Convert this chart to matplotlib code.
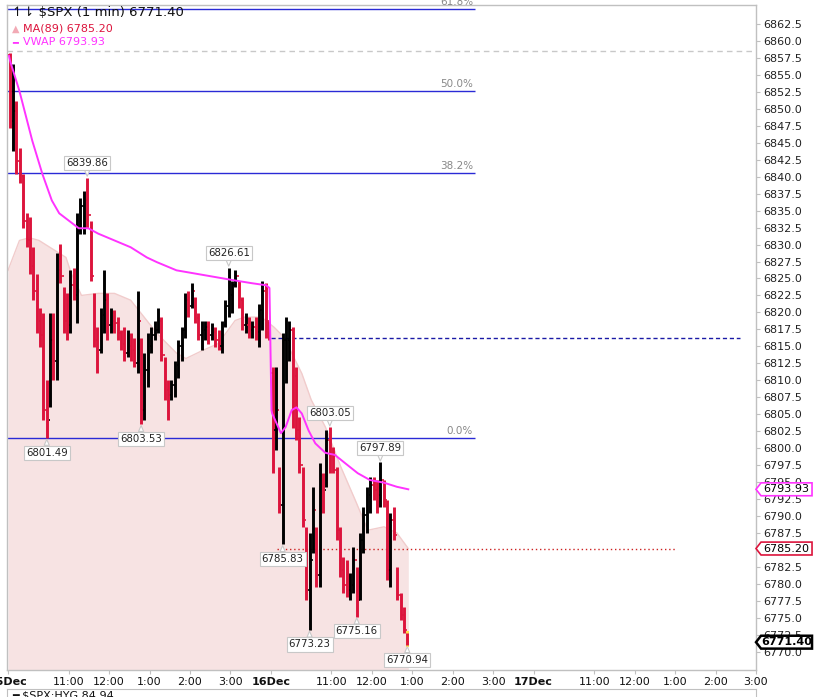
import numpy as np
import matplotlib.pyplot as plt
from matplotlib.patches import Polygon

# 5-minute OHLC summary of the 1-min $SPX chart (high, low, close)
day1_high = [6858.2, 6856.6, 6851.2, 6844.3, 6840.4, 6834.6, 6834.0, 6829.6, 6825.7, 6820.7,
             6819.9, 6810.0, 6819.9, 6819.9, 6828.7, 6830.1, 6823.7, 6822.8, 6826.2, 6826.6,
             6834.6, 6836.9, 6837.9, 6839.86, 6833.5, 6822.8, 6817.8, 6820.7, 6826.2, 6822.8,
             6820.7, 6820.3, 6819.3, 6817.4, 6817.8, 6817.4, 6816.9, 6816.3, 6823.2, 6816.3,
             6814.0, 6816.9, 6817.8, 6818.8, 6820.7, 6819.3, 6813.4, 6810.0, 6810.0, 6812.9,
             6815.9, 6817.8, 6822.8, 6823.2, 6824.3, 6822.2, 6819.9, 6818.8, 6818.8, 6818.8,
             6818.4, 6817.8, 6817.4, 6818.8, 6821.8, 6826.61, 6824.7, 6826.2, 6824.7, 6822.2,
             6819.9, 6819.3, 6818.8, 6819.3, 6821.3, 6824.7, 6824.3, 6818.8]
day1_low = [6847.1, 6843.8, 6840.4, 6839.0, 6832.5, 6829.6, 6825.7, 6821.8, 6816.9, 6814.9,
            6804.1, 6801.49, 6806.0, 6810.0, 6810.0, 6824.3, 6816.9, 6815.9, 6816.9, 6821.8,
            6818.4, 6831.6, 6831.6, 6832.5, 6824.7, 6814.9, 6811.0, 6814.0, 6816.9, 6815.9,
            6816.9, 6816.9, 6815.9, 6814.4, 6812.9, 6813.4, 6812.9, 6811.9, 6811.0, 6803.53,
            6804.1, 6809.0, 6814.0, 6815.9, 6816.9, 6812.9, 6807.1, 6804.1, 6807.1, 6807.5,
            6810.4, 6812.9, 6816.3, 6819.3, 6820.7, 6818.4, 6815.9, 6814.4, 6815.9, 6815.4,
            6815.9, 6814.9, 6814.4, 6814.0, 6817.8, 6819.3, 6819.9, 6823.7, 6820.7, 6817.4,
            6816.9, 6816.3, 6816.3, 6815.9, 6814.9, 6817.4, 6816.3, 6815.9]
day1_close = [6848.2, 6849.7, 6842.3, 6840.1, 6833.5, 6830.6, 6826.9, 6823.2, 6818.8, 6816.6,
              6805.6, 6804.1, 6815.9, 6812.9, 6826.2, 6825.4, 6818.8, 6818.1, 6824.0, 6822.5,
              6832.0, 6835.7, 6836.5, 6834.3, 6825.4, 6815.9, 6814.4, 6819.6, 6821.8, 6818.1,
              6818.8, 6818.4, 6816.9, 6815.4, 6814.0, 6815.0, 6814.4, 6812.5, 6818.8, 6805.6,
              6811.5, 6815.1, 6816.6, 6817.4, 6818.8, 6813.7, 6808.5, 6807.8, 6809.3, 6812.2,
              6815.1, 6817.4, 6821.8, 6821.0, 6823.2, 6819.1, 6816.6, 6817.4, 6817.8, 6816.6,
              6817.1, 6815.9, 6815.0, 6818.1, 6821.0, 6822.5, 6824.0, 6825.4, 6821.8, 6818.1,
              6818.1, 6817.4, 6817.8, 6817.1, 6820.3, 6823.2, 6818.8, 6816.3]

day2_high = [6811.9, 6811.9, 6797.2, 6816.9, 6819.3, 6818.8, 6817.8, 6811.9, 6804.6, 6797.2,
             6788.4, 6787.5, 6794.3, 6788.4, 6797.8, 6796.3, 6802.6, 6803.05, 6800.1, 6797.2,
             6788.4, 6784.0, 6783.5, 6781.6, 6785.5, 6782.5, 6787.5, 6791.3, 6794.3, 6795.7,
             6795.7, 6795.3, 6797.89, 6795.3, 6792.4, 6790.4, 6791.3, 6782.5, 6778.7, 6776.6,
             6772.8]
day2_low = [6796.3, 6799.7, 6790.4, 6785.83, 6809.6, 6812.9, 6803.0, 6801.2, 6796.3, 6788.4,
            6777.6, 6773.23, 6784.6, 6779.6, 6779.6, 6790.4, 6794.3, 6796.3, 6796.3, 6786.5,
            6781.0, 6778.7, 6778.1, 6777.6, 6778.7, 6775.16, 6777.6, 6784.6, 6787.5, 6790.4,
            6792.4, 6790.4, 6791.3, 6791.3, 6780.6, 6779.6, 6786.5, 6777.6, 6774.7, 6772.8,
            6770.94]
day2_close = [6802.6, 6805.6, 6791.6, 6815.9, 6815.9, 6817.4, 6810.7, 6802.6, 6797.5, 6789.4,
              6779.1, 6783.5, 6790.9, 6781.3, 6796.0, 6793.8, 6801.2, 6799.0, 6796.8, 6787.9,
              6782.1, 6779.9, 6779.1, 6779.9, 6783.5, 6777.6, 6786.5, 6790.1, 6793.1, 6794.6,
              6793.8, 6793.1, 6795.3, 6792.4, 6782.1, 6789.4, 6787.2, 6778.4, 6775.4, 6773.2,
              6771.40]
day1_open = 6858.0
day2_open = 6811.0

# overlays: minutes since 15Dec 9:30 (390 trading minutes per day)
ma_t = [0, 17, 32, 46, 86, 94, 109, 134, 158, 182, 206, 221, 250, 264, 289, 312, 337, 351,
        376, 395, 410, 421, 436, 450, 471, 494, 515, 534, 558, 577, 594]
ma_v = [6826.2, 6830.6, 6831.0, 6830.6, 6828.1, 6825.7, 6822.5, 6822.8, 6822.8, 6821.8,
        6818.8, 6816.9, 6814.0, 6813.2, 6814.4, 6815.4, 6818.8, 6819.3, 6819.3, 6817.8,
        6816.3, 6814.0, 6811.0, 6807.1, 6803.1, 6797.2, 6792.4, 6787.9, 6788.4, 6787.5, 6785.2]
vwap_t = [1.5, 3, 17, 36, 51, 65, 76, 105, 119, 134, 158, 182, 206, 221, 250, 279, 308, 337,
          362, 383, 388, 391, 392, 405, 412, 421, 428, 436, 446, 456, 471, 485, 500, 519, 537,
          558, 577, 594]
vwap_v = [6857.8, 6857.1, 6852.6, 6845.3, 6840.4, 6836.5, 6834.6, 6832.4, 6832.4, 6831.6,
          6830.6, 6829.6, 6828.1, 6827.4, 6826.2, 6825.7, 6825.2, 6824.7, 6824.3, 6824.0,
          6823.6, 6805.6, 6805.1, 6802.2, 6803.1, 6805.6, 6806.0, 6805.1, 6802.6, 6800.7,
          6799.3, 6799.0, 6797.8, 6796.3, 6795.3, 6794.9, 6794.3, 6793.93]

fib_low = 6801.49
fib_high = 6903.8
fib_levels = [0.0, 0.382, 0.5, 0.618]
prev_close = 6816.3
older_close = 6858.5
last_price = 6771.40
ma_last = 6785.20
vwap_last = 6793.93

day_names = ['15Dec', '16Dec', '17Dec']
hour_min = [90, 150, 210, 270, 330]
hour_names = ['11:00', '12:00', '1:00', '2:00', '3:00']

# swing labels: (bar index, 'high'/'low')
n1 = len(day1_high)
swings = [(11, 'low'), (23, 'high'), (39, 'low'), (65, 'high'), (n1 + 3, 'low'),
          (n1 + 11, 'low'), (n1 + 17, 'high'), (n1 + 25, 'low'), (n1 + 32, 'high'),
          (n1 + 40, 'low')]

UP = 'black'
DOWN = '#dc143c'
FIB = '#2a2ad6'
MAGENTA = '#ff33ff'

bar_len = 5
day_len = 390
t = np.r_[np.arange(n1) * bar_len + bar_len / 2,
          day_len + np.arange(len(day2_high)) * bar_len + bar_len / 2]
highs = np.array(day1_high + day2_high)
lows = np.array(day1_low + day2_low)
closes = np.array(day1_close + day2_close)
opens = np.r_[day1_open, closes[:-1]]
opens[n1] = day2_open

xmin, xmax = -1.5, 1086.4
ymin, ymax = 6767.3, 6865.3

plt.rcParams['font.family'] = 'DejaVu Sans'
fig = plt.figure(figsize=(8.27, 6.97), dpi=100)
ax = fig.add_axes([7 / 827, 1 - 670 / 697, 749 / 827, 665 / 697])
ax.set_xlim(xmin, xmax)
ax.set_ylim(ymin, ymax)

# MA(89) area
ax.fill_between(ma_t, ymin, ma_v, color='#f7e3e3', lw=0, zorder=1)
ax.plot(ma_t, ma_v, color='#f1cccc', lw=1, zorder=1)

# reference lines
ax.axhline(older_close, color='#c8c8c8', lw=1, ls=(0, (4, 3)), zorder=1.5)
ax.hlines(prev_close, day_len, xmax, color='#1a1aa6', lw=1, linestyles=(0, (3, 2)), zorder=1.5)
ax.hlines(ma_last, 399, 993, color='#cc2222', lw=1, linestyles=(0, (1, 2)), zorder=1.5)
for lv in fib_levels:
    y = fib_low + lv * (fib_high - fib_low)
    ax.hlines(y, xmin, 693, color=FIB, lw=1, zorder=2.5)
    ax.text(690, y + 0.3, '%.1f%%' % (lv * 100), ha='right', va='bottom',
            fontsize=7.5, color='#888888', zorder=3)

# price bars
colors = [UP if c >= o else DOWN for o, c in zip(opens, closes)]
ax.vlines(t, lows, highs, colors=colors, lw=2.1, zorder=3)
ax.hlines(opens, t - 2.2, t, colors=colors, lw=1.2, zorder=3)
ax.hlines(closes, t, t + 2.2, colors=colors, lw=1.2, zorder=3)
ax.bar(t[-1], highs[-1] - lows[-1] + 0.6, bottom=lows[-1] - 0.3, width=4,
       color='#ffe14d', zorder=2.8)

# VWAP
ax.plot(vwap_t, vwap_v, color=MAGENTA, lw=1.4, zorder=4)

# swing labels
for i, kind in swings:
    val = highs[i] if kind == 'high' else lows[i]
    dy = 7 if kind == 'high' else -7
    ax.annotate('%.2f' % val, xy=(t[i], val), xytext=(0, dy), textcoords='offset points',
                ha='center', va='bottom' if kind == 'high' else 'top', fontsize=7.3,
                color='#222222', zorder=6,
                bbox=dict(boxstyle='square,pad=0.2', fc='white', ec='#c8c8c8', lw=0.8),
                arrowprops=dict(arrowstyle='wedge,tail_width=0.5', fc='white',
                                ec='#c8c8c8', lw=0.8, shrinkA=0, shrinkB=1))

# legend
ax.text(0.007, 0.988, '↿⇂ $SPX (1 min) %.2f' % last_price, transform=ax.transAxes,
        fontsize=9.5, va='center', ha='left', color='#111111', zorder=7)
ax.text(0.007, 0.965, '▲', transform=ax.transAxes, fontsize=7, va='center', ha='left',
        color='#f2aab5', zorder=7)
ax.text(0.022, 0.965, 'MA(89) %.2f' % ma_last, transform=ax.transAxes, fontsize=8,
        va='center', ha='left', color=DOWN, zorder=7)
ax.text(0.007, 0.944, '━', transform=ax.transAxes, fontsize=7, va='center', ha='left',
        color=MAGENTA, zorder=7)
ax.text(0.022, 0.944, 'VWAP %.2f' % vwap_last, transform=ax.transAxes, fontsize=8,
        va='center', ha='left', color=MAGENTA, zorder=7)

# axes styling
for s in ax.spines.values():
    s.set_color('#c0c0c0')
    s.set_linewidth(1)
ax.yaxis.tick_right()
yt = np.arange(6770, 6863, 2.5)
ax.set_yticks(yt)
ax.set_yticklabels(['%.1f' % v for v in yt])
ax.tick_params(axis='y', length=3, pad=2, colors='#c0c0c0', labelcolor='#222222',
               labelsize=8)

xt, xl = [], []
for d, name in enumerate(day_names):
    xt.append(d * day_len)
    xl.append(name)
    for m, h in zip(hour_min, hour_names):
        xt.append(d * day_len + m)
        xl.append(h)
ax.set_xticks(xt)
ax.set_xticklabels(xl)
ax.tick_params(axis='x', length=3, pad=2, colors='#c0c0c0', labelcolor='#111111',
               labelsize=8)
for lab in ax.get_xticklabels():
    if lab.get_text() in day_names:
        lab.set_fontweight('bold')

# price tags on the right axis
tr = ax.get_yaxis_transform()
h = 0.95
for val, ec, lw, bold in [(vwap_last, MAGENTA, 1.2, False), (ma_last, DOWN, 1.2, False),
                          (last_price, 'black', 1.8, True)]:
    poly = Polygon([(1.0, val), (1.0067, val + h), (1.0748, val + h), (1.0748, val - h),
                    (1.0067, val - h)], closed=True, transform=tr, fc='white', ec=ec,
                   lw=lw, clip_on=False, zorder=8)
    ax.add_patch(poly)
    ax.text(1.0405, val, '%.2f' % val, transform=tr, ha='center', va='center',
            fontsize=8, fontweight='bold' if bold else 'normal', color='black',
            zorder=9, clip_on=False)

# lower panel (cut off)
ax2 = fig.add_axes([7 / 827, -0.02, 749 / 827, 1 - 689 / 697 + 0.02])
ax2.set_xticks([])
ax2.set_yticks([])
for s in ax2.spines.values():
    s.set_color('#c0c0c0')
ax2.text(0.007, 0.93, '━ $SPX:HYG 84.94', transform=ax2.transAxes, fontsize=8,
         va='top', ha='left', color='#111111')

fig.savefig('out.png', dpi=100)
